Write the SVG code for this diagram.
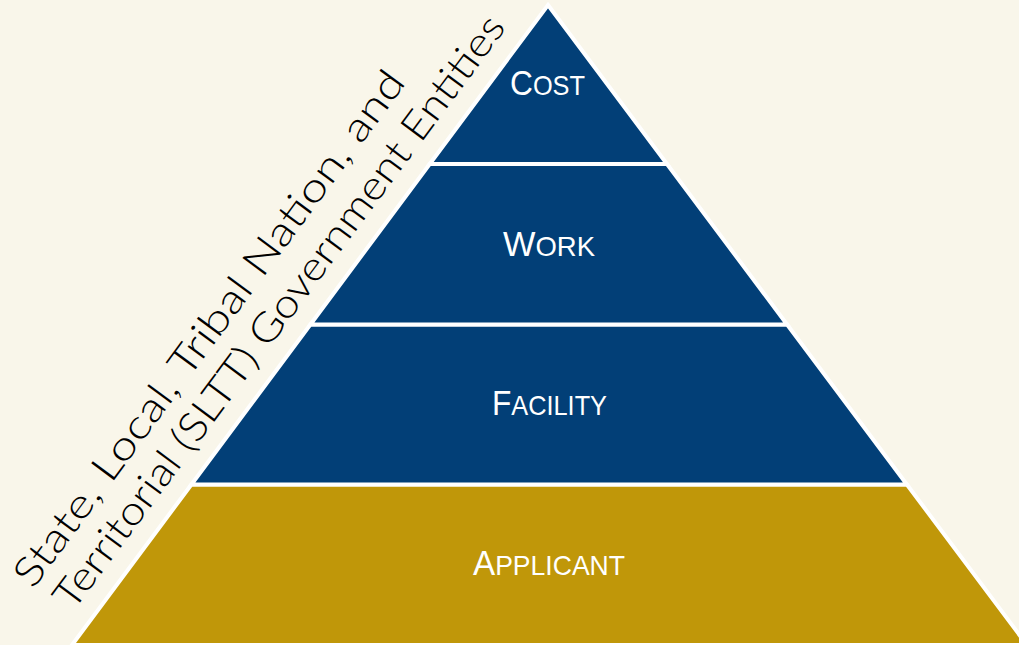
<svg xmlns="http://www.w3.org/2000/svg" width="1019" height="645" viewBox="0 0 1019 645">
<style>
.bg{fill:#F9F6EA}
.blue{fill:#023F77;stroke:#FFFFFF;stroke-width:4;stroke-linejoin:miter}
.gold{fill:#C09709;stroke:#FFFFFF;stroke-width:4;stroke-linejoin:miter}
.lbl{font-family:"Liberation Sans",Arial,sans-serif;fill:#FFFFFF;font-size:35px}
.sc{font-size:28px}
.side{font-family:Lato,"Liberation Sans",sans-serif;font-weight:300;fill:#000000;font-size:40px}
</style>
<rect class="bg" x="0" y="0" width="1019" height="645"/>
<g id="applicant">
<polygon class="gold" points="191.4,484.5 906.9,484.5 1027,645 72,645"/>
<text class="lbl" x="473" y="575" textLength="152" lengthAdjust="spacingAndGlyphs">A<tspan class="sc">PPLICANT</tspan></text>
</g>
<g id="facility">
<polygon class="blue" points="310.4,324.5 787.1,324.5 906.9,484.5 191.4,484.5"/>
<text class="lbl" x="492" y="415" textLength="115" lengthAdjust="spacingAndGlyphs">F<tspan class="sc">ACILITY</tspan></text>
</g>
<g id="work">
<polygon class="blue" points="429.7,164 667,164 787.1,324.5 310.4,324.5"/>
<text class="lbl" x="503" y="256" textLength="92" lengthAdjust="spacingAndGlyphs">W<tspan class="sc">ORK</tspan></text>
</g>
<g id="cost">
<polygon class="blue" points="548,5 667,164 429.7,164"/>
<text class="lbl" x="510" y="95" textLength="75" lengthAdjust="spacingAndGlyphs">C<tspan class="sc">OST</tspan></text>
</g>
<g id="side-label">
<text class="side" transform="translate(33,590) rotate(-53.6)" textLength="630" lengthAdjust="spacingAndGlyphs">State, Local, Tribal Nation, and</text>
<text class="side" transform="translate(73,612) rotate(-53.4)" textLength="728" lengthAdjust="spacingAndGlyphs">Territorial (SLTT) Government Entities</text>
</g>
<g id="connectors"/>
</svg>
